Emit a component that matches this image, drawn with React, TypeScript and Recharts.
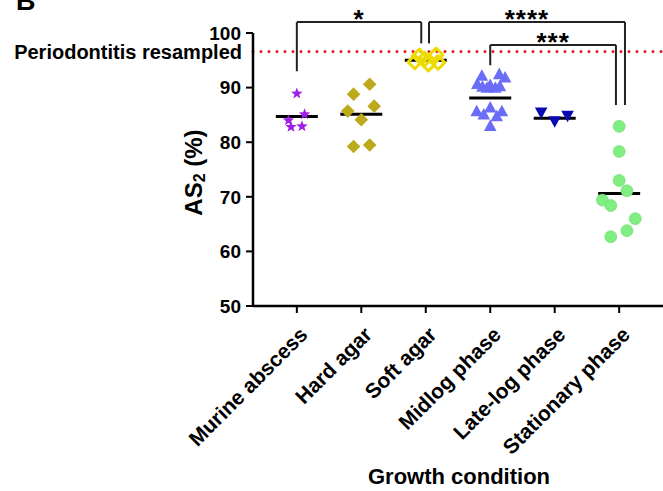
import React from 'react';
import { ScatterChart, Scatter, XAxis, YAxis, ReferenceLine } from 'recharts';

const FONT = '"Liberation Sans", Arial, Helvetica, sans-serif';

const categories = ['Murine abscess', 'Hard agar', 'Soft agar', 'Midlog phase', 'Late-log phase', 'Stationary phase'];
const yTicks = [50, 60, 70, 80, 90, 100];
const xTicks = [0, 1, 2, 3, 4, 5];

const murineValues = [88.9, 85.1, 84.0, 82.8, 82.9];
const murineJitter = [0.0, 0.12, -0.13, -0.09, 0.08];

const hardAgarValues = [90.6, 88.8, 86.6, 85.7, 84.1, 79.2, 79.5];
const hardAgarJitter = [0.13, -0.12, 0.2, -0.21, 0.0, -0.12, 0.13];

const softAgarValues = [95.8, 96.0, 94.3, 94.7, 94.6, 95.2];
const softAgarJitter = [-0.1, 0.16, 0.04, -0.17, 0.19, -0.02];

const midlogValues = [92.3, 92.6, 92.0, 90.8, 90.1, 90.1, 90.4, 90.6, 90.3, 85.8, 86.5, 85.8, 85.2, 84.9, 83.1];
const midlogJitter = [-0.13, 0.14, 0.23, -0.2, -0.05, 0.08, 0.15, 0.0, -0.12, -0.21, 0.0, 0.18, -0.1, 0.1, 0.0];

const lateLogValues = [85.3, 83.7, 84.7];
const lateLogJitter = [-0.21, 0.0, 0.2];

const stationaryValues = [82.9, 78.3, 73.0, 71.1, 69.4, 68.4, 66.0, 63.8, 62.7];
const stationaryJitter = [0.0, 0.0, 0.0, 0.12, -0.26, -0.13, 0.25, 0.12, -0.13];

const groupMeans = [84.7, 85.1, 95.0, 88.1, 84.4, 70.6];
const resampledLevel = 96.6;

const bracketLabels = ['*', '****', '***'];
const bracketStart = [0, 2.05, 3.0];
const bracketEnd = [1.93, 5.09, 4.95];
const bracketTop = [102.0, 102.0, 97.8];
const bracketLeftFoot = [93.0, 98.1, 94.1];
const bracketRightFoot = [98.1, 86.8, 86.8];

const toPoints = (cat: number, values: number[], jitter: number[]) =>
  values.map((v, i) => ({ x: cat + jitter[i], y: v }));

const meanData = groupMeans.map((m, i) => ({ x: i, y: m }));

const StarShape = (props: any) => {
  const { cx, cy } = props;
  const R = 6;
  const r = 2.5;
  const pts: string[] = [];
  for (let k = 0; k < 10; k++) {
    const rad = k % 2 === 0 ? R : r;
    const a = -Math.PI / 2 + (k * Math.PI) / 5;
    pts.push(`${cx + rad * Math.cos(a)},${cy + rad * Math.sin(a)}`);
  }
  return <polygon points={pts.join(' ')} fill="#a11ee6" />;
};

const DiamondShape = (props: any) => {
  const { cx, cy } = props;
  const h = 6.8;
  return <polygon points={`${cx},${cy - h} ${cx + h},${cy} ${cx},${cy + h} ${cx - h},${cy}`} fill="#bcaa1c" />;
};

const OpenDiamondShape = (props: any) => {
  const { cx, cy } = props;
  const h = 6.8;
  return (
    <polygon
      points={`${cx},${cy - h} ${cx + h},${cy} ${cx},${cy + h} ${cx - h},${cy}`}
      fill="#ffffff"
      fillOpacity={0}
      stroke="#eedc00"
      strokeWidth={3}
      strokeLinejoin="round"
    />
  );
};

const TriUpShape = (props: any) => {
  const { cx, cy } = props;
  const w = 6.3;
  const h = 5.8;
  return <polygon points={`${cx},${cy - h} ${cx + w},${cy + h} ${cx - w},${cy + h}`} fill="#6b6cf7" />;
};

const TriDownShape = (props: any) => {
  const { cx, cy } = props;
  const w = 6.3;
  const h = 5.8;
  return <polygon points={`${cx - w},${cy - h} ${cx + w},${cy - h} ${cx},${cy + h}`} fill="#0a0ab4" />;
};

const CircleShape = (props: any) => {
  const { cx, cy } = props;
  return <circle cx={cx} cy={cy} r={6} fill="#80ee80" stroke="#6cd86c" strokeWidth={0.6} />;
};

const MeanShape = (props: any) => {
  const { cx, cy } = props;
  return <line x1={cx - 21} x2={cx + 21} y1={cy} y2={cy} stroke="#000" strokeWidth={3} />;
};

const XTick = (props: any) => {
  const { x, y, payload } = props;
  return (
    <text
      transform={`translate(${x + 12},${y + 21}) rotate(-45)`}
      textAnchor="end"
      fontFamily={FONT}
      fontSize={21}
      fontWeight="bold"
      fill="#000"
    >
      {categories[payload.value]}
    </text>
  );
};

const renderYLabel = (props: any) => {
  const vb = props.viewBox || { x: 0, y: 33, width: 253, height: 273 };
  const cx = vb.x + vb.width - 60;
  const cy = vb.y + vb.height / 2 + 3;
  return (
    <g>
      <text x={16} y={10} fontFamily={FONT} fontSize={27} fontWeight="bold" fill="#000">B</text>
      <text
        transform={`translate(${cx},${cy}) rotate(-90)`}
        textAnchor="middle"
        dominantBaseline="central"
        fontFamily={FONT}
        fontSize={24}
        fontWeight="bold"
        fill="#000"
      >
        <tspan>AS</tspan>
        <tspan dy={6} fontSize={16}>2</tspan>
        <tspan dy={-6}> (%)</tspan>
      </text>
    </g>
  );
};

const renderXLabel = (props: any) => {
  const vb = props.viewBox || { x: 253, y: 306, width: 410, height: 185 };
  return (
    <text
      x={vb.x + vb.width / 2 + 1}
      y={484}
      textAnchor="middle"
      fontFamily={FONT}
      fontSize={22}
      fontWeight="bold"
      fill="#000"
    >
      Growth condition
    </text>
  );
};

const makeBracketLabel = (txt: string) => (props: any) => {
  const vb = props.viewBox || { x: 0, y: 0, width: 0, height: 0 };
  return (
    <text
      x={vb.x + vb.width / 2}
      y={vb.y + 6}
      textAnchor="middle"
      fontFamily={FONT}
      fontSize={26}
      fontWeight="bold"
      letterSpacing={1}
      fill="#000"
    >
      {txt}
    </text>
  );
};

const bracketStroke = { stroke: '#222', strokeWidth: 2 };

export default function App() {
  return (
    <div style={{ position: 'absolute', left: 0, top: 0, width: 663, height: 491, background: '#fff' }}>
      <ScatterChart width={663} height={491} margin={{ top: 33, right: 0, bottom: 0, left: 0 }}>
        <XAxis
          type="number"
          dataKey="x"
          domain={[-0.68, 5.68]}
          ticks={xTicks}
          interval={0}
          height={185}
          tickSize={7}
          axisLine={{ stroke: '#000', strokeWidth: 2.5 }}
          tickLine={{ stroke: '#000', strokeWidth: 2 }}
          tick={<XTick />}
          label={renderXLabel}
        />
        <YAxis
          type="number"
          dataKey="y"
          domain={[50, 100]}
          ticks={yTicks}
          interval={0}
          width={253}
          tickSize={7}
          tickMargin={5}
          axisLine={{ stroke: '#000', strokeWidth: 2.5 }}
          tickLine={{ stroke: '#000', strokeWidth: 2 }}
          tick={{ fill: '#000', fontSize: 19, fontWeight: 'bold', fontFamily: FONT }}
          label={renderYLabel}
        />
        <ReferenceLine
          y={resampledLevel}
          stroke="#e8141c"
          strokeWidth={3}
          strokeDasharray="0 8"
          strokeLinecap="round"
          label={{
            value: 'Periodontitis resampled',
            position: 'left',
            offset: 11,
            fill: '#000',
            fontSize: 20,
            fontWeight: 'bold',
            fontFamily: FONT,
          }}
        />
        {bracketLabels.map((lab, i) => (
          <ReferenceLine
            key={`bl-${i}`}
            ifOverflow="visible"
            segment={[{ x: bracketStart[i], y: bracketLeftFoot[i] }, { x: bracketStart[i], y: bracketTop[i] }]}
            {...bracketStroke}
          />
        ))}
        {bracketLabels.map((lab, i) => (
          <ReferenceLine
            key={`bt-${i}`}
            ifOverflow="visible"
            segment={[{ x: bracketStart[i], y: bracketTop[i] }, { x: bracketEnd[i], y: bracketTop[i] }]}
            {...bracketStroke}
            label={makeBracketLabel(lab)}
          />
        ))}
        {bracketLabels.map((lab, i) => (
          <ReferenceLine
            key={`br-${i}`}
            ifOverflow="visible"
            segment={[{ x: bracketEnd[i], y: bracketTop[i] }, { x: bracketEnd[i], y: bracketRightFoot[i] }]}
            {...bracketStroke}
          />
        ))}
        <Scatter data={meanData} shape={MeanShape} isAnimationActive={false} />
        <Scatter data={toPoints(0, murineValues, murineJitter)} shape={StarShape} isAnimationActive={false} />
        <Scatter data={toPoints(1, hardAgarValues, hardAgarJitter)} shape={DiamondShape} isAnimationActive={false} />
        <Scatter data={toPoints(2, softAgarValues, softAgarJitter)} shape={OpenDiamondShape} isAnimationActive={false} />
        <Scatter data={toPoints(3, midlogValues, midlogJitter)} shape={TriUpShape} isAnimationActive={false} />
        <Scatter data={toPoints(4, lateLogValues, lateLogJitter)} shape={TriDownShape} isAnimationActive={false} />
        <Scatter data={toPoints(5, stationaryValues, stationaryJitter)} shape={CircleShape} isAnimationActive={false} />
      </ScatterChart>
    </div>
  );
}
